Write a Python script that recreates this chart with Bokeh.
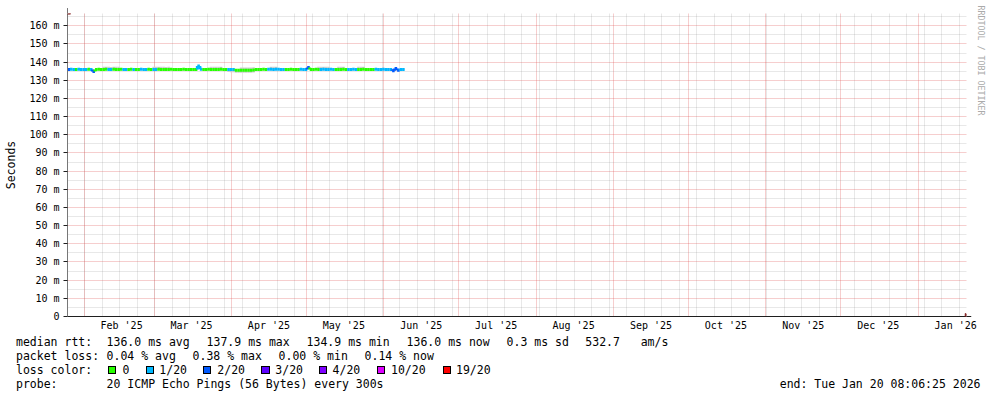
import math
from datetime import datetime, timedelta

from bokeh.plotting import figure
from bokeh.models import Range1d, FixedTicker, Arrow, NormalHead, Title, Div
from bokeh.layouts import column
from bokeh.embed import file_html
from bokeh.resources import INLINE

# ---------------------------------------------------------------- data
END = datetime(2026, 1, 20, 8, 6, 25)
SPAN_DAYS = 360
START = END - timedelta(days=SPAN_DAYS)

y_ticks = [0, 10, 20, 30, 40, 50, 60, 70, 80, 90, 100, 110, 120, 130, 140, 150, 160]
y_minor = [5, 15, 25, 35, 45, 55, 65, 75, 85, 95, 105, 115, 125, 135, 145, 155, 165]
y_tick_labels = ["0", "10 m", "20 m", "30 m", "40 m", "50 m", "60 m", "70 m", "80 m",
                 "90 m", "100 m", "110 m", "120 m", "130 m", "140 m", "150 m", "160 m"]
y_top = 166.77

month_starts = [(2025, 2), (2025, 3), (2025, 4), (2025, 5), (2025, 6), (2025, 7),
                (2025, 8), (2025, 9), (2025, 10), (2025, 11), (2025, 12), (2026, 1)]
month_labels = ["Feb '25", "Mar '25", "Apr '25", "May '25", "Jun '25", "Jul '25",
                "Aug '25", "Sep '25", "Oct '25", "Nov '25", "Dec '25", "Jan '26"]

# daily median rtt (ms), from START onwards
median_ms = [
    136.0, 136.1, 136.0, 136.0, 136.1, 136.0, 135.9, 136.0, 136.1, 136.0,
    134.9, 136.0, 136.1, 136.0, 136.0, 136.1, 136.0, 136.0, 136.1, 136.0,
    136.0, 136.1, 136.0, 136.0, 136.0, 136.1, 136.0, 136.0, 136.0, 136.1,
    136.0, 136.0, 136.1, 136.0, 136.0, 136.0, 136.1, 136.0, 136.0, 136.0,
    136.0, 136.1, 136.0, 136.0, 136.0, 136.0, 136.1, 136.0, 136.0, 136.0,
    136.0, 136.0, 137.9, 136.1, 136.0, 136.0, 136.1, 136.0, 136.0, 136.0,
    136.0, 136.1, 136.0, 136.0, 136.0, 136.0, 135.9, 135.6, 135.5, 135.6,
    135.5, 135.5, 135.6, 135.5, 135.7, 135.9, 136.0, 136.0, 136.1, 136.0,
    136.1, 136.1, 136.0, 136.1, 136.1, 136.0, 136.0, 136.0, 136.0, 136.1,
    136.0, 136.0, 136.0, 136.1, 136.0, 136.0, 137.0, 136.0, 136.0, 136.1,
    136.0, 136.0, 136.1, 136.0, 136.0, 136.1, 136.0, 136.0, 136.0, 136.0,
    136.1, 136.0, 136.0, 136.0, 136.1, 136.0, 136.0, 136.0, 136.1, 136.0,
    136.0, 136.0, 136.0, 136.1, 136.0, 136.0, 136.1, 136.0, 136.0, 136.0,
    135.3, 136.5, 135.6, 136.0, 136.0,
]

# daily loss bin (index into loss_colors)
loss_bin = [
    2, 1, 1, 0, 1, 1, 1, 1, 0, 1,
    2, 0, 0, 0, 0, 0, 1, 1, 0, 0,
    0, 0, 1, 1, 0, 0, 1, 0, 0, 1,
    1, 1, 0, 0, 1, 1, 0, 0, 0, 0,
    0, 0, 0, 0, 0, 0, 0, 0, 0, 0,
    0, 0, 1, 1, 0, 0, 0, 0, 0, 0,
    0, 0, 0, 0, 1, 1, 1, 0, 0, 0,
    0, 0, 0, 0, 0, 0, 0, 0, 0, 0,
    1, 1, 1, 1, 1, 1, 1, 0, 0, 0,
    0, 0, 0, 1, 1, 1, 2, 0, 0, 0,
    0, 1, 1, 1, 1, 1, 1, 0, 0, 0,
    0, 0, 1, 1, 1, 1, 0, 0, 0, 0,
    0, 0, 0, 1, 1, 1, 1, 1, 1, 1,
    2, 2, 2, 1, 1,
]

# smoke (spread of the 20 pings), ms
smoke_hi = [
    136.5, 136.6, 136.5, 136.5, 136.6, 136.5, 136.4, 136.5, 136.6, 136.5,
    135.9, 136.5, 136.6, 136.5, 137.4, 137.5, 137.4, 137.3, 137.5, 137.4,
    137.4, 136.6, 136.5, 136.5, 136.5, 136.6, 136.5, 136.5, 136.5, 136.6,
    136.5, 136.5, 136.6, 136.5, 137.4, 137.4, 137.5, 137.4, 137.4, 137.3,
    137.4, 136.6, 136.5, 136.5, 136.5, 136.5, 136.6, 136.5, 136.5, 136.5,
    136.5, 136.5, 138.3, 136.6, 136.5, 136.5, 136.6, 137.4, 137.4, 137.5,
    137.4, 137.5, 136.5, 136.5, 136.5, 136.5, 136.4, 136.1, 136.0, 137.1,
    137.0, 137.0, 137.1, 137.0, 137.2, 136.4, 136.5, 136.5, 136.6, 136.5,
    136.6, 137.5, 137.4, 137.5, 136.6, 136.5, 136.5, 136.5, 136.5, 136.6,
    136.5, 136.5, 136.5, 136.6, 136.5, 136.5, 137.5, 136.5, 136.5, 136.6,
    137.4, 137.4, 137.5, 137.4, 137.4, 136.6, 136.5, 136.5, 137.4, 137.4,
    137.5, 136.5, 136.5, 136.5, 136.6, 136.5, 137.4, 137.4, 137.5, 136.5,
    136.5, 136.5, 136.5, 136.6, 136.5, 136.5, 136.6, 136.5, 136.5, 136.5,
    136.3, 137.0, 136.1, 136.5, 136.5,
]
smoke_lo = [
    135.5, 135.6, 135.5, 135.5, 135.6, 135.5, 135.4, 135.5, 135.6, 135.5,
    134.4, 135.5, 135.6, 135.5, 135.5, 135.6, 135.5, 135.5, 135.6, 135.5,
    135.5, 135.6, 135.5, 135.5, 135.5, 135.6, 135.5, 135.5, 135.5, 135.6,
    135.5, 135.5, 135.6, 135.5, 135.5, 135.5, 135.6, 135.5, 135.5, 135.5,
    135.5, 135.6, 135.5, 135.5, 135.5, 135.5, 135.6, 135.5, 135.5, 135.5,
    135.5, 135.5, 137.4, 135.6, 135.5, 135.5, 135.6, 135.5, 135.5, 135.5,
    135.5, 135.6, 135.5, 135.5, 134.6, 134.5, 134.4, 134.2, 134.1, 134.2,
    134.1, 134.1, 134.2, 134.1, 134.3, 135.4, 135.5, 135.5, 135.6, 135.5,
    135.6, 135.6, 135.5, 135.6, 135.6, 135.5, 135.5, 135.5, 135.5, 135.6,
    135.5, 135.5, 135.5, 135.6, 135.5, 135.5, 136.5, 135.5, 135.5, 135.6,
    135.5, 135.5, 135.6, 135.5, 135.5, 135.6, 135.5, 135.5, 135.5, 135.5,
    135.6, 135.5, 135.5, 135.5, 135.6, 135.5, 135.5, 135.5, 135.6, 135.5,
    135.5, 135.5, 135.5, 135.6, 135.5, 135.5, 135.6, 135.5, 135.5, 135.5,
    134.8, 135.4, 135.1, 135.5, 135.5,
]

loss_colors = ["#26ff00", "#00b8ff", "#0059ff", "#5e00ff", "#7e00ff", "#dd00ff", "#ff0000"]
loss_labels = ["0", "1/20", "2/20", "3/20", "4/20", "10/20", "19/20"]

rtt_texts = ["median rtt:", "136.0 ms avg", "137.9 ms max", "134.9 ms min",
             "136.0 ms now", "0.3 ms sd", "532.7   am/s"]
loss_texts = ["packet loss:", "0.04 % avg", "0.38 % max", "0.00 % min", "0.14 % now"]
probe_texts = ["probe:", "20 ICMP Echo Pings (56 Bytes) every 300s"]
end_text = "end: Tue Jan 20 08:06:25 2026"
watermark = "RRDTOOL / TOBI OETIKER"

# ---------------------------------------------------------------- styling / layout
FONT = "DejaVu Sans Mono"
AXIS_C = "#1f1f1f"
ARROW_C = "#801f1f"
MGRID_C = "#de4f4f"
GRID_C = "#8f8f8f"
SMOKE_C = "#cdcdcd"

W, H = 997, 397
FL, FT, FW, FH = 67, 13, 900, 303          # frame left/top/width/height in page px
FB = FT + FH                               # frame bottom (316)
PH = FB + 18                               # height of the plot canvas
LH = H - PH                                # height of the legend block


def ms(d):
    return int((d - datetime(1970, 1, 1)).total_seconds() * 1000)


DAY = 86400000
t0 = ms(START)
t1 = ms(END)

p = figure(width=W, height=PH, x_axis_type="datetime",
           x_range=Range1d(t0, t1), y_range=Range1d(0, y_top),
           output_backend="svg", toolbar_location=None,
           min_border_left=FL, min_border_right=W - FL - FW,
           min_border_top=FT, min_border_bottom=PH - FB,
           background_fill_color="white", border_fill_color="white",
           outline_line_color=None)

# ---- y axis
p.yaxis.ticker = FixedTicker(ticks=y_ticks, minor_ticks=y_minor)
p.yaxis.major_label_overrides = {t: s for t, s in zip(y_ticks, y_tick_labels)}
p.yaxis.major_label_text_font = FONT
p.yaxis.major_label_text_font_size = "10px"
p.yaxis.major_label_text_color = "#000000"
p.yaxis.major_tick_out = 4
p.yaxis.major_tick_in = 0
p.yaxis.minor_tick_out = 0
p.yaxis.minor_tick_in = 0
p.yaxis.major_tick_line_color = AXIS_C
p.yaxis.major_label_standoff = 4
p.yaxis.axis_line_color = "#777777"
p.yaxis.axis_label = "Seconds"
p.yaxis.axis_label_text_font = FONT
p.yaxis.axis_label_text_font_size = "11.5px"
p.yaxis.axis_label_text_font_style = "normal"
p.yaxis.axis_label_text_color = "#000000"
p.yaxis.axis_label_standoff = 8

# ---- x axis (labels mid-month), grid at month starts and weekly
month_ms = [ms(datetime(y, m, 1)) for (y, m) in month_starts]
label_ms = [ms(datetime(y, m, 1) + timedelta(days=15)) for (y, m) in month_starts]
week_ms = [t0 + k * 7 * DAY for k in range(1, SPAN_DAYS // 7 + 1)]

p.xaxis.ticker = FixedTicker(ticks=label_ms)
p.xaxis.major_label_overrides = {t: s for t, s in zip(label_ms, month_labels)}
p.xaxis.major_label_text_font = FONT
p.xaxis.major_label_text_font_size = "10px"
p.xaxis.major_label_text_color = "#000000"
p.xaxis.major_tick_out = 0
p.xaxis.major_tick_in = 0
p.xaxis.minor_tick_out = 0
p.xaxis.minor_tick_in = 0
p.xaxis.major_label_standoff = 3
p.xaxis.axis_line_color = AXIS_C

p.xgrid.ticker = FixedTicker(ticks=month_ms, minor_ticks=week_ms)
for g in (p.xgrid, p.ygrid):
    g.grid_line_color = MGRID_C
    g.grid_line_alpha = 0.55
    g.grid_line_dash = "1 1"
    g.minor_grid_line_color = GRID_C
    g.minor_grid_line_alpha = 0.4
    g.minor_grid_line_dash = "1 1"

# ---- smoke + median
n = len(median_ms)
left = [t0 + i * DAY for i in range(n)]
right = [t0 + (i + 1) * DAY for i in range(n)]
p.quad(left=left, right=right, bottom=smoke_lo, top=smoke_hi,
       fill_color=SMOKE_C, line_color=None)

cols = [loss_colors[b] for b in loss_bin]
p.segment(x0=left, y0=median_ms, x1=right, y1=median_ms,
          line_color=cols, line_width=3, line_cap="butt")
vx = left[1:]
p.segment(x0=vx, y0=median_ms[:-1], x1=vx, y1=median_ms[1:],
          line_color=cols[1:], line_width=3, line_cap="butt")

# ---- arrows
p.add_layout(Arrow(end=NormalHead(size=6, fill_color=ARROW_C, line_color=ARROW_C),
                   x_start=t1, y_start=0, x_end=t1 + int(1.9 * DAY), y_end=0,
                   line_color=AXIS_C, line_width=1))
p.add_layout(Arrow(end=NormalHead(size=6, fill_color=ARROW_C, line_color=ARROW_C),
                   x_start=t0, y_start=y_top, x_end=t0, y_end=y_top + 3.0,
                   line_color="#777777", line_width=1))

# ---- watermark (vertical, right border)
p.add_layout(Title(text=watermark, align="left", text_font=FONT, text_font_size="8.3px",
                   text_font_style="normal", text_color="#aaaaaa",
                   standoff=19, offset=-8), "right")

# ---------------------------------------------------------------- legend block (HTML)
row_y = [342.0, 356.0, 370.0, 384.0]
rtt_x = [16.0, 106.6, 206.6, 306.6, 406.6, 506.6, 585.3]
loss_x = [16.0, 106.6, 192.6, 278.6, 364.6]
probe_x = [16.0, 106.6]
lab_x = [122.6, 159.3, 217.3, 275.3, 332.6, 391.0, 456.0]
box_cx = [112.0, 149.8, 207.0, 265.5, 323.0, 380.8, 447.0]
LINE_H = 14


def span(text, X, Yc, right_edge=None):
    top = Yc - PH - LINE_H / 2
    if right_edge is not None:
        pos = f"right:{W - right_edge:.1f}px;"
    else:
        pos = f"left:{X:.1f}px;"
    return (f'<span style="position:absolute;{pos}top:{top:.1f}px;'
            f'white-space:pre;line-height:{LINE_H}px;">{text}</span>')


parts = []
for xx, s in zip(rtt_x, rtt_texts):
    parts.append(span(s, xx, row_y[0]))
for xx, s in zip(loss_x, loss_texts):
    parts.append(span(s, xx, row_y[1]))
parts.append(span("loss color:", 16.0, row_y[2]))
for xx, s in zip(lab_x, loss_labels):
    parts.append(span(s, xx, row_y[2]))
for xx, s in zip(probe_x, probe_texts):
    parts.append(span(s, xx, row_y[3]))
parts.append(span(end_text, 0, row_y[3], right_edge=980.5))
BOX = 8.5
for cx, c in zip(box_cx, loss_colors):
    parts.append(f'<span style="position:absolute;box-sizing:border-box;'
                 f'left:{cx - BOX / 2:.1f}px;top:{row_y[2] - PH - BOX / 2:.1f}px;'
                 f'width:{BOX}px;height:{BOX}px;'
                 f'background:{c};border:1px solid #000;"></span>')

html = (f'<div style="position:relative;width:{W}px;height:{LH}px;margin:0;padding:0;'
        f'font-family:\'{FONT}\';font-size:11.5px;color:#000;">' + "".join(parts) + '</div>')
legend = Div(text=html, width=W, height=LH, margin=0)

layout = column(p, legend, spacing=0)
open("out.html", "w").write(file_html(layout, INLINE))
